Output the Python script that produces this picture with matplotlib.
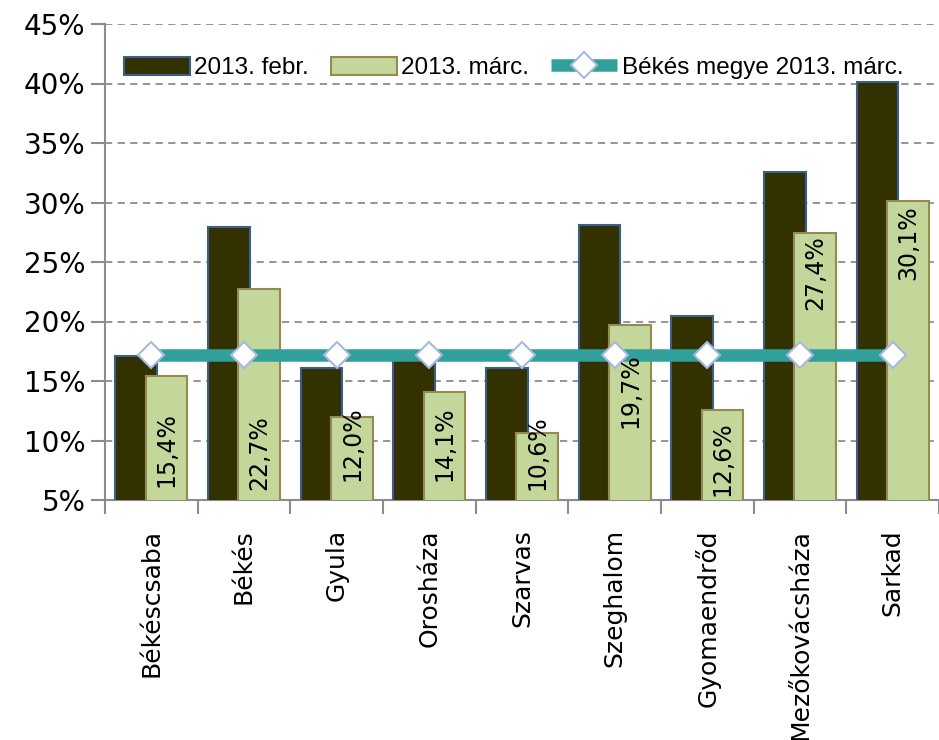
import matplotlib
matplotlib.use("Agg")
import matplotlib.pyplot as plt
import numpy as np

categories = ["Békéscsaba", "Békés", "Gyula", "Orosháza", "Szarvas",
              "Szeghalom", "Gyomaendrőd", "Mezőkovácsháza", "Sarkad"]
febr = [17.1, 27.9, 16.1, 17.0, 16.1, 28.1, 20.5, 32.6, 40.1]
marc = [15.4, 22.7, 12.0, 14.1, 10.6, 19.7, 12.6, 27.4, 30.1]
megye = [17.2] * 9
marc_labels = ["15,4%", "22,7%", "12,0%", "14,1%", "10,6%", "19,7%", "12,6%", "27,4%", "30,1%"]
label_pos = [9.2, 9.0, 9.7, 9.7, 9.0, 14.2, 8.5, 24.1, 26.6]
yticks = [5, 10, 15, 20, 25, 30, 35, 40, 45]
series_names = ["2013. febr.", "2013. márc.", "Békés megye 2013. márc."]

W, H = 939, 740
fig = plt.figure(figsize=(W / 100, H / 100), dpi=100)
left_px, right_px, top_px, bot_px = 105, 939, 24, 500
ax = fig.add_axes([left_px / W, 1 - bot_px / H, (right_px - left_px) / W, (bot_px - top_px) / H])

cat_w = 93.3
x = np.arange(len(categories))
off = 0.165
bw = 0.45
b1 = ax.bar(x - off, febr, bw, bottom=0, color="#343100", edgecolor="#3a5f8c", linewidth=1.5, zorder=3,
            label=series_names[0])
b2 = ax.bar(x + off, marc, bw, bottom=0, color="#c4d79b", edgecolor="#948a54", linewidth=1.5, zorder=4,
            label=series_names[1])
l1, = ax.plot(x, megye, color="#31a09a", linewidth=9, solid_capstyle="butt", marker="D", markersize=13,
              markerfacecolor="white", markeredgecolor="#a6b9dc", markeredgewidth=1.5, zorder=6,
              label=series_names[2])

for xi, lab, p in zip(x, marc_labels, label_pos):
    ax.text(xi + off, p, lab, rotation=90, ha="center", va="center", fontsize=17,
            family="DejaVu Sans", zorder=7)

ax.set_ylim(5, 45)
ax.set_xlim(-0.5, (right_px - left_px) / cat_w - 0.5)
ax.set_yticks(yticks)
ax.set_yticklabels([f"{v}%" for v in yticks], fontsize=20, family="DejaVu Sans")
ax.yaxis.grid(True, linestyle=(0, (4, 3)), color="#8c8c8c", linewidth=1.3, zorder=0)
ax.set_axisbelow(True)

ax.set_xticks(x)
ax.set_xticklabels(categories, rotation=90, fontsize=18, family="DejaVu Sans", va="top")
ax.tick_params(axis="x", length=0, pad=21)
ax.set_xticks(np.arange(len(categories) + 1) - 0.5, minor=True)
ax.tick_params(axis="x", which="minor", length=10, width=1.5, color="#8c8c8c", direction="out")
ax.tick_params(axis="y", length=10, width=1.5, color="#8c8c8c", direction="out", pad=4)

for s in ["top", "right"]:
    ax.spines[s].set_visible(False)
for s in ["left", "bottom"]:
    ax.spines[s].set_color("#8c8c8c")
    ax.spines[s].set_linewidth(1.5)

leg = ax.legend(handles=[b1, b2, l1], loc="upper left", bbox_to_anchor=(0.011, 0.952), ncol=3,
                frameon=False, prop={"family": "Liberation Sans", "size": 17.5},
                handlelength=2.7, handleheight=0.8, columnspacing=0.9, handletextpad=0.2,
                borderaxespad=0)
leg.set_zorder(10)

fig.savefig("out.png", dpi=100)
